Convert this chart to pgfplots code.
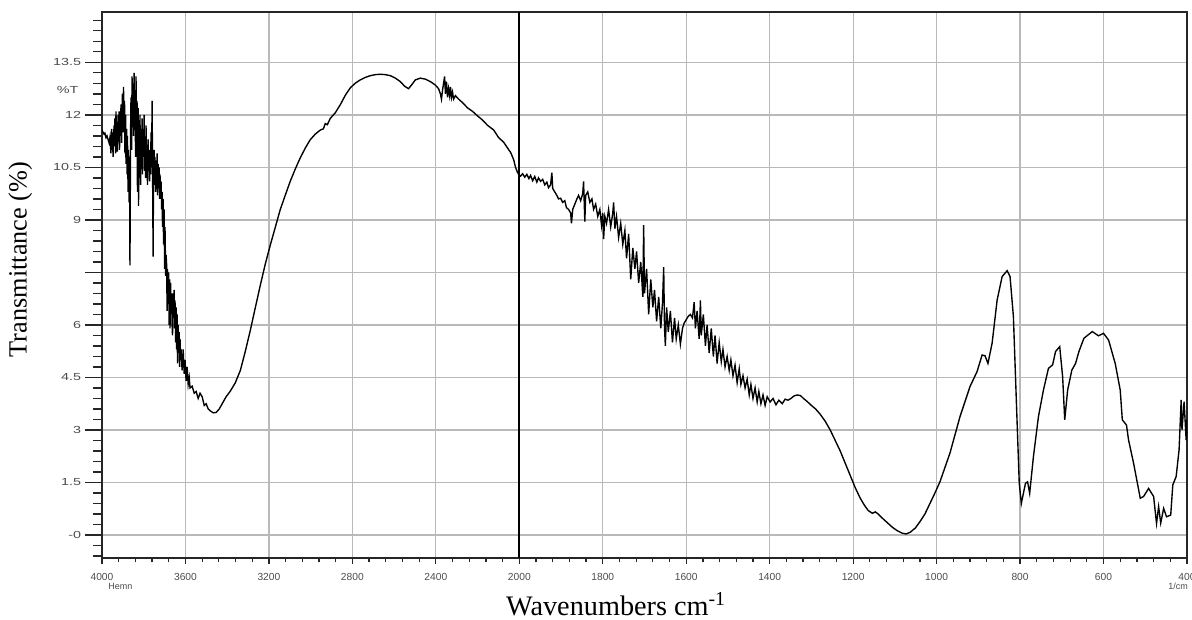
\documentclass[border=0pt]{standalone}
\usepackage{fontspec}
\setmainfont{Liberation Serif}
\setsansfont{Liberation Sans}
\usepackage{pgfplots}
\pgfplotsset{compat=1.18}
\begin{document}
\begin{tikzpicture}
\begin{axis}[
  scale only axis, width=434pt, height=218.4pt,
  xmin=0, xmax=13, ymin=-0.666, ymax=14.93,
  x filter/.expression={x>=2000 ? (4000-x)/400 : 5+(2000-x)/200},
  xtick={0,1,2,3,4,5,6,7,8,9,10,11,12,13},
  xticklabels={4000,3600,3200,2800,2400,2000,1800,1600,1400,1200,1000,800,600,400},
  minor x tick num=4,
  ytick={0,1.5,3,4.5,6,7.5,9,10.5,12,13.5},
  yticklabels={-0,1.5,3,4.5,6,,9,10.5,12,13.5},
  minor ytick={-0.6,-0.3,...,14.7},
  tick pos=left, tick align=outside,
  major tick length=6.8pt, minor tick length=3.6pt,
  xtick style={/pgfplots/major tick length=2.4pt,/pgfplots/minor tick length=1.6pt},
  grid=major,
  major grid style={gray!55, line width=0.5pt},
  axis line style={black!85, line width=0.8pt},
  tick style={black!85, line width=0.5pt},
  ticklabel style={font=\sffamily\fontsize{4.1}{4.5}\selectfont, text=black!70},
  xticklabel style={yshift=4.4pt},
  yticklabel style={xscale=1.4, xshift=2.4pt},
]
\addplot[black, line width=0.55pt] table {
nu T
4000 11.57
3995 11.50
3990 11.45
3986 11.48
3981 11.35
3976 11.40
3971 11.30
3966 11.20
3962 11.35
3957 10.90
3954 11.60
3952 11.00
3950 11.50
3947 10.80
3945 11.30
3942 11.70
3940 11.10
3938 11.90
3935 10.90
3933 12.10
3930 11.20
3928 11.80
3926 10.95
3923 12.00
3921 11.30
3918 12.10
3916 11.00
3914 11.90
3911 11.40
3909 12.30
3906 11.20
3904 12.00
3902 12.60
3899 11.50
3897 12.80
3894 11.70
3892 12.40
3890 10.90
3887 12.00
3885 10.60
3882 11.60
3880 10.30
3878 11.40
3875 9.80
3873 11.00
3870 9.50
3868 10.80
3866 7.70
3863 11.50
3861 12.50
3858 11.00
3856 13.10
3854 11.80
3851 12.90
3849 11.40
3846 13.20
3844 12.00
3842 12.60
3839 10.80
3837 13.10
3834 11.50
3832 12.40
3830 9.80
3827 12.20
3825 9.40
3822 11.80
3820 10.20
3818 12.00
3815 10.00
3813 11.60
3810 10.60
3808 11.90
3806 10.30
3803 11.40
3801 10.80
3798 12.00
3796 10.40
3794 11.20
3791 10.20
3789 11.70
3786 10.50
3784 11.00
3782 10.00
3779 11.30
3777 10.60
3774 11.00
3772 10.10
3770 10.90
3767 10.30
3765 11.50
3762 10.50
3760 12.40
3758 10.80
3755 7.95
3753 10.50
3750 11.00
3748 10.00
3746 10.80
3743 9.80
3741 10.70
3738 9.90
3736 10.90
3734 9.70
3731 10.60
3729 9.90
3726 10.50
3724 9.60
3722 10.30
3719 9.70
3717 10.10
3714 9.30
3712 9.80
3710 8.80
3707 9.60
3705 8.30
3702 9.30
3700 7.60
3698 8.80
3695 7.40
3693 8.00
3690 7.70
3688 6.40
3686 7.60
3683 6.60
3681 7.50
3678 6.00
3676 7.30
3674 5.90
3671 7.20
3669 6.30
3666 6.90
3664 6.00
3662 5.70
3659 6.90
3657 6.20
3654 7.00
3652 5.90
3650 6.70
3647 5.50
3645 6.50
3642 5.30
3640 6.30
3638 4.90
3635 6.00
3633 5.20
3630 5.80
3628 4.80
3626 5.60
3623 5.00
3621 5.30
3616 4.70
3611 5.30
3606 4.60
3602 5.00
3597 4.40
3592 4.80
3587 4.30
3582 4.50
3578 4.20
3568 4.25
3558 4.05
3549 4.10
3539 3.90
3530 4.05
3520 3.95
3510 3.70
3501 3.75
3491 3.60
3482 3.55
3467 3.49
3453 3.50
3438 3.60
3424 3.75
3405 3.95
3386 4.10
3361 4.35
3337 4.70
3313 5.25
3289 5.85
3265 6.50
3241 7.14
3217 7.75
3193 8.29
3169 8.80
3146 9.29
3122 9.70
3098 10.10
3074 10.45
3050 10.77
3026 11.05
3002 11.29
2978 11.45
2953 11.57
2939 11.60
2930 11.75
2920 11.72
2906 11.90
2882 12.06
2857 12.30
2833 12.57
2809 12.78
2785 12.91
2762 13.00
2738 13.07
2714 13.12
2690 13.15
2666 13.16
2642 13.15
2618 13.12
2594 13.05
2570 12.95
2550 12.82
2531 12.75
2517 12.85
2498 13.00
2474 13.05
2450 13.02
2426 12.95
2402 12.85
2387 12.75
2378 12.60
2373 12.45
2368 12.70
2363 12.90
2358 13.10
2354 12.60
2349 12.95
2344 12.50
2339 12.75
2334 12.55
2330 12.80
2325 12.50
2320 12.65
2315 12.45
2306 12.55
2291 12.45
2272 12.35
2248 12.20
2224 12.10
2200 11.97
2176 11.85
2152 11.70
2123 11.57
2099 11.35
2075 11.22
2056 11.05
2041 10.92
2027 10.72
2018 10.50
2008 10.35
2000 10.28
1997 10.25
1992 10.32
1987 10.22
1982 10.30
1977 10.18
1973 10.27
1968 10.12
1963 10.24
1958 10.08
1954 10.20
1949 10.10
1944 10.16
1939 10.00
1934 10.08
1930 9.92
1925 10.00
1922 10.35
1920 9.90
1915 9.80
1910 9.70
1906 9.60
1901 9.62
1896 9.50
1891 9.55
1887 9.35
1882 9.30
1877 9.20
1875 8.90
1872 9.30
1867 9.45
1862 9.60
1858 9.70
1853 9.55
1848 9.75
1846 10.10
1843 8.95
1841 9.70
1836 9.80
1831 9.50
1826 9.60
1822 9.30
1817 9.45
1812 9.10
1807 9.30
1803 8.85
1800 9.20
1798 8.45
1795 9.10
1791 8.90
1786 9.30
1781 8.80
1776 9.20
1774 9.50
1771 8.75
1767 9.10
1762 8.50
1757 8.90
1752 8.30
1747 8.70
1743 7.90
1738 8.60
1733 7.30
1728 8.20
1723 7.60
1719 8.10
1714 7.20
1709 7.80
1704 6.80
1702 8.85
1700 6.90
1695 7.60
1690 6.30
1685 7.30
1680 6.50
1676 7.00
1671 6.10
1666 6.80
1661 5.90
1657 6.60
1654 7.65
1652 5.90
1650 5.40
1647 6.50
1643 5.80
1638 6.40
1633 5.50
1628 6.20
1624 5.60
1619 6.00
1614 5.45
1609 5.90
1605 6.05
1600 6.15
1595 6.25
1590 6.30
1585 6.20
1581 6.65
1578 5.90
1574 6.40
1569 5.60
1566 6.70
1564 5.70
1559 6.30
1554 5.40
1550 6.00
1545 5.20
1540 5.90
1535 5.10
1531 5.70
1526 4.90
1521 5.50
1516 4.95
1512 5.30
1507 4.80
1502 5.10
1497 4.70
1493 5.00
1488 4.55
1483 4.85
1478 4.35
1473 4.75
1469 4.30
1464 4.55
1459 4.20
1454 4.45
1449 4.00
1445 4.30
1440 3.90
1435 4.20
1430 3.80
1426 4.10
1421 3.75
1416 4.00
1411 3.70
1406 3.95
1399 3.80
1392 3.90
1385 3.72
1378 3.85
1370 3.75
1363 3.88
1356 3.85
1349 3.90
1342 3.97
1334 4.00
1326 3.98
1319 3.90
1309 3.80
1300 3.70
1290 3.60
1279 3.45
1267 3.25
1255 3.00
1243 2.70
1231 2.40
1219 2.05
1207 1.70
1195 1.35
1183 1.05
1173 0.85
1164 0.70
1154 0.62
1147 0.66
1140 0.60
1130 0.48
1118 0.35
1106 0.22
1094 0.12
1082 0.05
1073 0.03
1063 0.08
1051 0.20
1040 0.38
1028 0.60
1016 0.90
1004 1.20
992 1.52
968 2.34
944 3.38
920 4.24
903 4.67
891 5.14
884 5.12
877 4.90
867 5.48
855 6.71
843 7.38
831 7.55
824 7.38
816 6.24
809 3.86
802 1.48
797 0.90
787 1.48
782 1.52
777 1.19
768 2.24
756 3.38
744 4.14
732 4.76
722 4.86
715 5.24
705 5.38
698 4.52
693 3.29
686 4.14
676 4.71
667 4.90
659 5.24
647 5.62
627 5.81
612 5.69
600 5.76
588 5.57
572 4.90
560 4.14
555 3.29
545 3.14
540 2.71
528 2.05
512 1.05
504 1.10
492 1.33
480 1.10
473 0.33
468 0.81
463 0.34
456 0.76
449 0.52
439 0.57
434 1.43
426 1.67
419 2.43
414 3.86
412 3.00
407 3.81
402 2.71
400 3.30
};
\draw[black, line width=0.8pt] (rel axis cs:0.384615,0) -- (rel axis cs:0.384615,1);
\coordinate (SW) at (rel axis cs:0,0);
\coordinate (NE) at (rel axis cs:1,1);
\coordinate (SE) at (rel axis cs:1,0);
\end{axis}
\node[rotate=90, anchor=base, font=\fontsize{10.5}{12}\selectfont] at ([shift={(-30.1pt,119.5pt)}]SW) {Transmittance (\%)};
\node[anchor=base, font=\fontsize{11.3}{13}\selectfont] at ([shift={(205.7pt,-22.7pt)}]SW) {Wavenumbers cm\textsuperscript{-1}};
\node[anchor=east, inner sep=0pt, xscale=1.4, text=black!70, font=\sffamily\fontsize{4.1}{4.5}\selectfont] at ([shift={(-9.2pt,187.3pt)}]SW) {\%T};
\node[inner sep=0pt, text=black!70, font=\sffamily\fontsize{3.6}{4}\selectfont] at ([shift={(7.4pt,-11.3pt)}]SW) {Hemn};
\node[inner sep=0pt, text=black!70, font=\sffamily\fontsize{3.6}{4}\selectfont] at ([shift={(-3.6pt,-11.3pt)}]SE) {1/cm};
\pgfresetboundingbox
\path ([shift={(-40.8pt,-24.28pt)}]SW) rectangle ([shift={(2pt,4.92pt)}]NE);
\end{tikzpicture}
\end{document}
